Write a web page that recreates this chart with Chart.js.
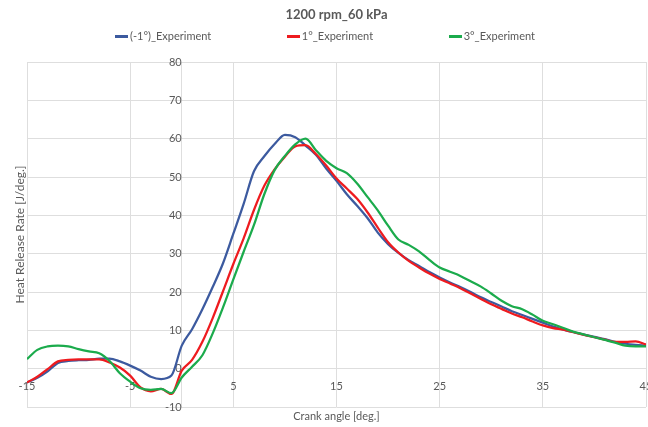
<!DOCTYPE html>
<html>
<head>
<meta charset="utf-8">
<title>1200 rpm_60 kPa</title>
<script src="https://cdn.jsdelivr.net/npm/chart.js@4/dist/chart.umd.min.js"></script>
<style>
    html, body { margin: 0; padding: 0; background: #ffffff; }
    #wrap { position: relative; width: 648px; height: 427px; }
    #legend {
        position: absolute; top: 28px; left: 115px; width: 420px; height: 16px;
        display: flex; justify-content: space-between; align-items: center;
        font-family: 'Lato', sans-serif; font-size: 11px; color: #595959; line-height: 16px;
    }
    #legend .item { display: flex; align-items: center; white-space: nowrap; }
    #legend .swatch { display: inline-block; width: 13px; height: 3px; margin-right: 2px; }
</style>
</head>
<body>
<div id="wrap">
    <canvas id="hrrChart" width="648" height="427"></canvas>
    <div id="legend"></div>
</div>
<script>
// Chart data
const chartTitle = '1200 rpm_60 kPa';
const seriesNames = ['(-1°)_Experiment', '1°_Experiment', '3°_Experiment'];
const seriesColors = ['#3c5a9f', '#ee1b1f', '#1bab4c'];

const crankAngles = [
    -15, -14, -13, -12, -11, -10, -9, -8, -7, -6, -5, -4, -3, -2, -1,
    0, 1, 2, 3, 4, 5, 6, 7, 8, 9, 10, 11, 12, 13, 14, 15,
    16, 17, 18, 19, 20, 21, 22, 23, 24, 25, 26, 27, 28, 29, 30,
    31, 32, 33, 34, 35, 36, 37, 38, 39, 40, 41, 42, 43, 44, 45
];

const hrrMinus1 = [
    -3.6, -2.4, -0.7, 1.5, 2.0, 2.2, 2.3, 2.6, 2.6, 1.9, 0.8, -0.5, -2.1, -2.7, -1.8,
    6.0, 10.3, 15.5, 21.3, 27.5, 35.2, 43.0, 51.5, 55.4, 58.6, 61.0, 60.4, 58.2, 55.8, 52.2, 49.0,
    45.5, 42.5, 39.3, 35.5, 32.5, 30.2, 28.3, 26.8, 25.2, 23.8, 22.5, 21.3, 20.0, 18.6, 17.4,
    16.2, 15.0, 14.0, 13.0, 12.0, 11.0, 10.2, 9.5, 8.9, 8.3, 7.7, 7.0, 6.5, 6.2, 6.0
];

const hrrPlus1 = [
    -3.6, -2.1, -0.1, 1.9, 2.3, 2.4, 2.4, 2.4, 1.6, 0.3, -1.8, -4.9, -5.9, -5.3, -6.6,
    -0.5, 2.3, 7.0, 13.2, 20.2, 27.3, 34.0, 41.4, 47.7, 52.0, 55.3, 58.0, 58.3, 56.0, 53.0, 49.6,
    47.0, 44.3, 40.8, 36.8, 33.0, 30.3, 28.1, 26.4, 24.8, 23.4, 22.2, 21.0, 19.6, 18.2, 16.8,
    15.6, 14.4, 13.4, 12.3, 11.3, 10.6, 10.2, 9.5, 8.8, 8.2, 7.6, 7.0, 7.0, 7.1, 6.3
];

const hrrPlus3 = [
    2.5, 4.9, 5.8, 6.0, 5.8, 5.1, 4.5, 4.0, 2.0, -1.2, -3.4, -5.1, -5.5, -5.3, -6.4,
    -2.3, 0.5, 3.5, 9.2, 16.0, 23.3, 30.5, 37.5, 45.5, 51.8, 55.5, 58.5, 60.0, 57.0, 54.2, 52.3,
    51.0, 48.3, 44.8, 41.3, 37.3, 33.7, 32.3, 30.6, 28.4, 26.4, 25.3, 24.2, 22.8, 21.4, 19.6,
    17.7, 16.3, 15.5, 14.1, 12.5, 11.6, 10.6, 9.6, 8.9, 8.2, 7.5, 6.8, 6.0, 5.8, 5.8
];

const xTickValues = [-15, -5, 5, 15, 25, 35, 45];
const yAxisTitle = 'Heat Release Rate [J/deg.]';
const xAxisTitle = 'Crank angle [deg.]';

const TEXT_COLOR = '#595959';
const GRID_COLOR = '#dedede';
const FONT = 'Lato';

// Build {x, y} points from the arrays above
function toPoints(values) {
    return crankAngles.map((angle, i) => ({ x: angle, y: values[i] }));
}

const seriesValues = [hrrMinus1, hrrPlus1, hrrPlus3];

const datasets = seriesValues.map((values, i) => ({
    label: seriesNames[i],
    data: toPoints(values),
    borderColor: seriesColors[i],
    backgroundColor: seriesColors[i],
    borderWidth: 2.25,
    pointRadius: 0,
    cubicInterpolationMode: 'monotone',
    fill: false,
    // later series drawn on top, like the spreadsheet
    order: seriesValues.length - i
}));

// Axes crossing at zero take no room in the layout
function noRoomWidth(scale) {
    scale.width = 0;
    scale.paddingTop = 0;
    scale.paddingBottom = 0;
}
function noRoomHeight(scale) {
    scale.height = 0;
    scale.paddingLeft = 0;
    scale.paddingRight = 0;
}

const ctx = document.getElementById('hrrChart').getContext('2d');
const chart = new Chart(ctx, {
    type: 'line',
    data: { datasets: datasets },
    options: {
        responsive: false,
        animation: false,
        layout: { padding: { right: 2 } },
        plugins: {
            legend: { display: false },
            tooltip: { enabled: false },
            title: {
                display: true,
                text: chartTitle,
                fullSize: false,
                color: TEXT_COLOR,
                font: { family: FONT, size: 13, weight: 'bold' },
                padding: { top: 7, bottom: 39.4 }
            }
        },
        scales: {
            x: {
                type: 'linear',
                min: -15,
                max: 45,
                position: { y: 0 },
                afterBuildTicks: (axis) => {
                    axis.ticks = xTickValues.map(v => ({ value: v }));
                },
                afterFit: noRoomHeight,
                grid: { color: GRID_COLOR, drawTicks: false },
                border: { color: GRID_COLOR },
                ticks: {
                    padding: 11,
                    maxRotation: 0,
                    autoSkip: false,
                    color: TEXT_COLOR,
                    font: { family: FONT, size: 11 }
                }
            },
            y: {
                type: 'linear',
                min: -10,
                max: 80,
                position: { x: 0 },
                afterFit: noRoomWidth,
                grid: { color: GRID_COLOR, drawTicks: false },
                border: { color: GRID_COLOR },
                ticks: {
                    stepSize: 10,
                    padding: 8,
                    color: TEXT_COLOR,
                    font: { family: FONT, size: 11 }
                }
            },
            // empty axes that only carry the axis titles
            yTitle: {
                type: 'linear',
                position: 'left',
                grid: { display: false, drawTicks: false },
                border: { display: false },
                ticks: { display: false },
                afterFit: (scale) => { scale.width = 27; },
                title: {
                    display: true,
                    text: yAxisTitle,
                    color: TEXT_COLOR,
                    font: { family: FONT, size: 12 },
                    padding: { top: 12.8, bottom: 0 }
                }
            },
            xTitle: {
                type: 'linear',
                position: 'bottom',
                grid: { display: false, drawTicks: false },
                border: { display: false },
                ticks: { display: false },
                afterFit: (scale) => { scale.height = 20; },
                title: {
                    display: true,
                    text: xAxisTitle,
                    color: TEXT_COLOR,
                    font: { family: FONT, size: 11 },
                    padding: { top: 4, bottom: 4 }
                }
            }
        }
    }
});

// HTML legend, spread out like the original
const legendEl = document.getElementById('legend');
chart.data.datasets.forEach((ds) => {
    const item = document.createElement('span');
    item.className = 'item';
    const swatch = document.createElement('span');
    swatch.className = 'swatch';
    swatch.style.background = ds.borderColor;
    const label = document.createElement('span');
    label.textContent = ds.label;
    item.appendChild(swatch);
    item.appendChild(label);
    legendEl.appendChild(item);
});
</script>
</body>
</html>
